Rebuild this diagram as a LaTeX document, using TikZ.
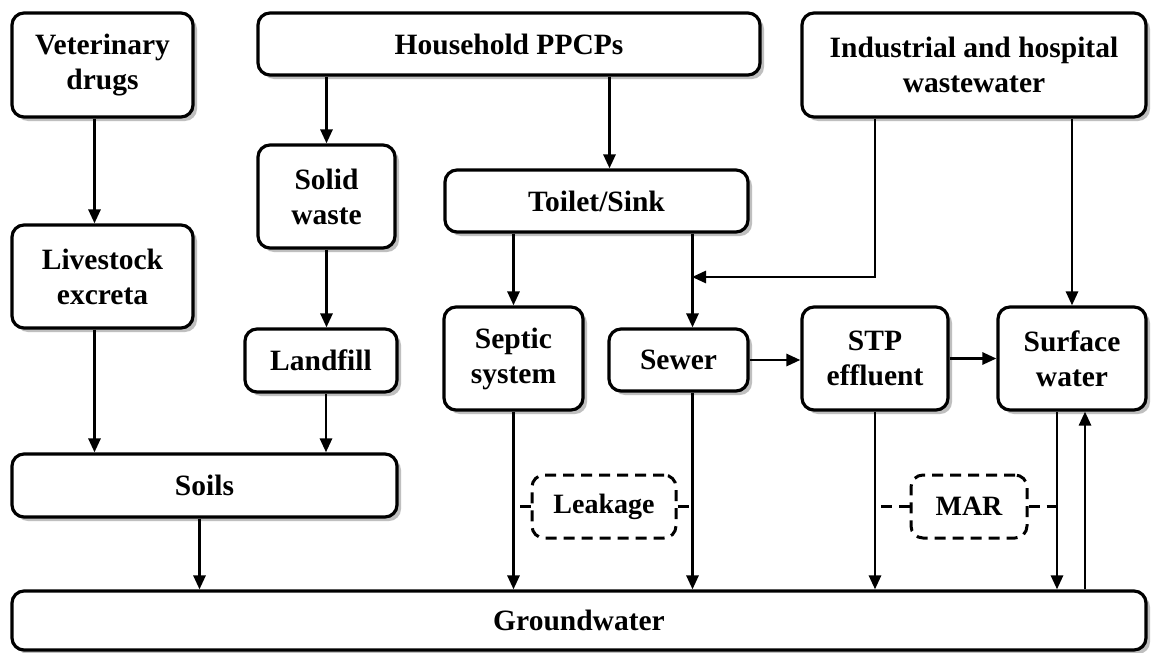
\documentclass[tikz,border=0pt]{standalone}
\usepackage{fontspec}
\setmainfont{Liberation Serif}
\usetikzlibrary{shadows,arrows.meta}

\begin{document}
\begin{tikzpicture}[x=1pt, y=-1pt]
  \tikzstyle{box} = [rectangle, draw, line width=3.2pt, rounded corners=12pt, fill=white, align=center, inner sep=0pt, font=\fontsize{29.5}{35}\selectfont\bfseries, drop shadow={shadow xshift=4pt, shadow yshift=-4pt, fill=black!25, opacity=1}]
  \tikzstyle{route} = [rectangle, draw, line width=3pt, dash pattern=on 11pt off 7pt, rounded corners=12pt, align=center, inner sep=0pt, font=\fontsize{28}{32}\selectfont\bfseries]
  \tikzstyle{arrow} = [line width=2.8pt, ->, >={Triangle[length=14pt,width=12pt]}]
  \tikzstyle{stub} = [line width=2.8pt, dash pattern=on 11pt off 7pt]

  \useasboundingbox[fill=white] (0,0) rectangle (1151,653);

  % Sources
  \node (vet) [box, minimum width=181pt, minimum height=104pt] at (102.5,65) {Veterinary\\drugs};
  \node (hh) [box, minimum width=502pt, minimum height=62pt] at (509,44) {Household PPCPs};
  \node (ind) [box, minimum width=344pt, minimum height=104pt] at (974,65) {Industrial and hospital\\wastewater};

  % Pathways
  \node (solid) [box, minimum width=137pt, minimum height=103pt] at (326.5,196.5) {Solid\\waste};
  \node (toilet) [box, minimum width=303pt, minimum height=62pt] at (596.5,201) {Toilet/Sink};
  \node (live) [box, minimum width=181pt, minimum height=103pt] at (102.5,276.5) {Livestock\\excreta};
  \node (landfill) [box, minimum width=152pt, minimum height=63pt] at (321,360.5) {Landfill};
  \node (septic) [box, minimum width=139pt, minimum height=103pt] at (513.5,358.5) {Septic\\system};
  \node (sewer) [box, minimum width=139pt, minimum height=62pt] at (678.5,360) {Sewer};
  \node (stp) [box, minimum width=146pt, minimum height=103pt] at (875,358.5) {STP\\effluent};
  \node (surf) [box, minimum width=148pt, minimum height=103pt] at (1072,358.5) {Surface\\water};
  \node (soils) [box, minimum width=385pt, minimum height=63pt] at (204.5,485.5) {Soils};

  % Receptor
  \node (gw) [box, minimum width=1134pt, minimum height=59pt] at (579,620.5) {Groundwater};

  % Routes
  \node (leak) [route, minimum width=144pt, minimum height=63pt] at (604,506.5) {Leakage};
  \node (mar) [route, minimum width=116pt, minimum height=63pt] at (969,506.5) {MAR};

  % Helper points
  \coordinate (tin) at ([xshift=13pt]toilet.north);
  \coordinate (swin) at ([xshift=14pt]sewer.north);
  \coordinate (swout) at ([xshift=14pt]sewer.south);
  \coordinate (sfout) at ([xshift=-15pt]surf.south);
  \coordinate (sfin) at ([xshift=13pt]surf.south);
  \coordinate (merge) at (692,277);

  % Arrows
  \draw[arrow] ([xshift=-8pt]vet.south) -- ([xshift=-8pt]live.north);
  \draw[arrow] ([xshift=-8pt]live.south) -- ([xshift=-8pt]live.south |- soils.north);
  \draw[arrow] (hh.south -| solid.north) -- (solid.north);
  \draw[arrow] (solid.south) -- (solid.south |- landfill.north);
  \draw[arrow] ([xshift=5pt]landfill.south) -- ([xshift=5pt]landfill.south |- soils.north);
  \draw[arrow] ([xshift=-5pt]soils.south) -- ([xshift=-5pt]soils.south |- gw.north);
  \draw[arrow] (hh.south -| tin) -- (tin);
  \draw[arrow] (toilet.south -| septic.north) -- (septic.north);
  \draw[arrow] (toilet.south -| swin) -- (swin);
  \draw[arrow] (ind.south -| stp.north) |- (merge);
  \draw[arrow] (ind.south -| surf.north) -- (surf.north);
  \draw[arrow] (sewer.east) -- (sewer.east -| stp.west);
  \draw[arrow] (stp.east) -- (stp.east -| surf.west);
  \draw[arrow] (septic.south) -- (septic.south |- gw.north);
  \draw[arrow] (swout) -- (swout |- gw.north);
  \draw[arrow] (stp.south) -- (stp.south |- gw.north);
  \draw[arrow] (sfout) -- (sfout |- gw.north);
  \draw[arrow] (sfin |- gw.north) -- (sfin);

  % Dashed links
  \draw[stub] (leak.west) -- (leak.west -| septic.south);
  \draw[stub] (leak.east) -- (leak.east -| swout);
  \draw[stub] (mar.west) -- (mar.west -| stp.south);
  \draw[stub] (mar.east) -- (mar.east -| sfout);

\end{tikzpicture}
\end{document}
